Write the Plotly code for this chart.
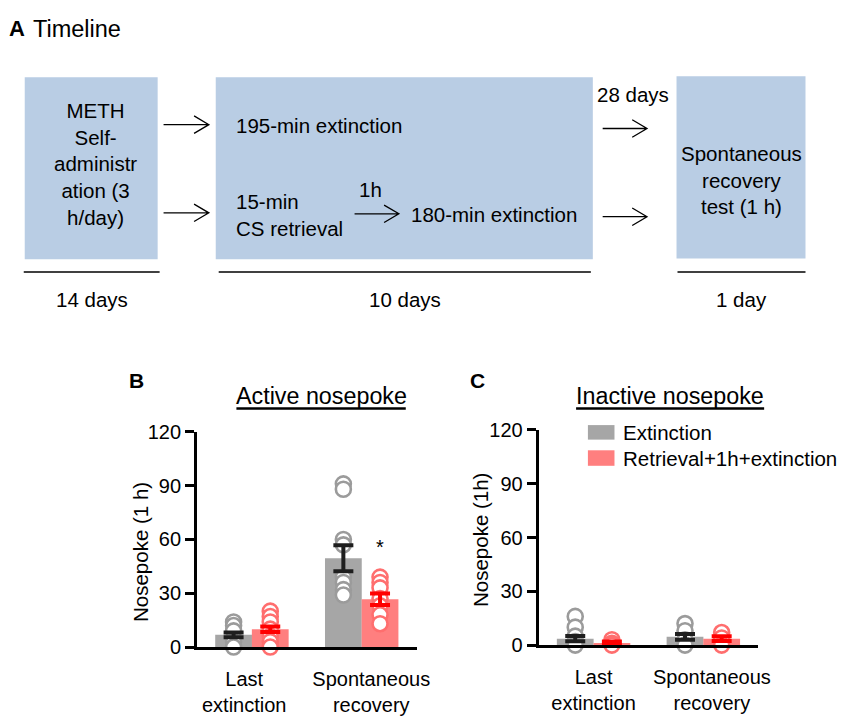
import plotly.graph_objects as go

# ---------------- data ----------------
groups = ["Last<br>extinction", "Spontaneous<br>recovery"]
series_names = ["Extinction", "Retrieval+1h+extinction"]

active_ext_mean = [6.8, 49.5]
active_ext_sem = [1.3, 7.3]
active_ret_mean = [9.9, 26.7]
active_ret_sem = [1.5, 3.2]
active_ext_points = [[14, 12, 9, 3, 0], [91, 88, 60, 57, 39, 36, 32, 29]]
active_ret_points = [[20, 17, 14, 10, 6, 3, 0], [39, 36, 33, 27, 23, 18, 13]]

inactive_ext_mean = [3.6, 4.6]
inactive_ext_sem = [1.5, 1.6]
inactive_ret_mean = [1.2, 3.6]
inactive_ret_sem = [0.8, 1.3]
inactive_ext_points = [[16, 10, 5, 2, 0], [12, 8, 3, 0]]
inactive_ret_points = [[3, 1, 0], [7, 4, 0]]

y_ticks = [0, 30, 60, 90, 120]

# timeline texts
timeline_title = "Timeline"
box_texts = ["METH<br>Self-<br>administr<br>ation (3<br>h/day)",
             "Spontaneous<br>recovery<br>test (1 h)"]
phase_texts = ["195-min extinction", "15-min<br>CS retrieval", "1h", "180-min extinction", "28 days"]
duration_texts = ["14 days", "10 days", "1 day"]
y_titles = ["Nosepoke (1 h)", "Nosepoke (1h)"]
panel_titles = ["Active nosepoke", "Inactive nosepoke"]

# ---------------- styles ----------------
PAGE_PAD = 8                      # browser body margin
W, H = 850 - PAGE_PAD, 722 - PAGE_PAD
FONT = "Liberation Sans, Arial, sans-serif"
GRAY_BAR = "#a6a6a6"
GRAY_DOT = "#9b9b9b"
RED_BAR = "#ff7f7f"
RED_DOT = "#ff6e6e"
RED_ERR = "#ff0000"
BLACK_ERR = "#1e1e1e"
BOX_FILL = "#b9cde4"
BAR_W = 0.335
OFF = 0.167
TXT = 20.5


def X(px):
    return (px - PAGE_PAD) / W


def Y(py):
    return 1 - (py - PAGE_PAD) / H


fig = go.Figure()


def add_panel(xa, ya, ext_mean, ext_sem, ret_mean, ret_sem, ext_pts, ret_pts):
    gx = list(range(len(groups)))
    for mean, col, off, name in [(ext_mean, GRAY_BAR, -OFF, series_names[0]),
                                 (ret_mean, RED_BAR, OFF, series_names[1])]:
        fig.add_trace(go.Bar(x=[g + off for g in gx], y=mean, width=BAR_W,
                             marker=dict(color=col, line=dict(width=0)),
                             name=name, showlegend=False, xaxis=xa, yaxis=ya))
    for pts, col, off in [(ext_pts, GRAY_DOT, -OFF), (ret_pts, RED_DOT, OFF)]:
        xs, ys = [], []
        for g, vals in zip(gx, pts):
            xs += [g + off] * len(vals)
            ys += vals
        fig.add_trace(go.Scatter(x=xs, y=ys, mode="markers", cliponaxis=False,
                                 marker=dict(symbol="circle", size=15, color="white",
                                             line=dict(color=col, width=2.6)),
                                 showlegend=False, xaxis=xa, yaxis=ya))
    for mean, sem, col, off in [(ext_mean, ext_sem, BLACK_ERR, -OFF),
                                (ret_mean, ret_sem, RED_ERR, OFF)]:
        fig.add_trace(go.Scatter(x=[g + off for g in gx], y=mean, mode="markers",
                                 cliponaxis=False,
                                 marker=dict(size=1, color="rgba(0,0,0,0)"),
                                 error_y=dict(type="data", array=sem, color=col,
                                              thickness=4, width=10),
                                 showlegend=False, xaxis=xa, yaxis=ya))


add_panel("x", "y", active_ext_mean, active_ext_sem, active_ret_mean, active_ret_sem,
          active_ext_points, active_ret_points)
add_panel("x2", "y2", inactive_ext_mean, inactive_ext_sem, inactive_ret_mean, inactive_ret_sem,
          inactive_ext_points, inactive_ret_points)

axis_common = dict(showline=True, linecolor="black", linewidth=3, showgrid=False,
                   zeroline=False, tickfont=dict(family=FONT, size=20, color="black"))
xaxis_common = dict(range=[-0.5, 1.5], ticks="", ticklabelstandoff=12, **axis_common)
yaxis_common = dict(range=[0, 120], tickvals=y_ticks, ticks="outside", ticklen=9,
                    tickwidth=3, tickcolor="black", **axis_common)

fig.update_layout(
    width=W, height=H, margin=dict(l=0, r=0, t=0, b=0),
    paper_bgcolor="white", plot_bgcolor="white", showlegend=False,
    font=dict(family=FONT, color="black"),
    barmode="overlay",
    xaxis=dict(domain=[X(200), X(423)], tickvals=[-0.07, 1.087], ticktext=groups,
               anchor="y", **xaxis_common),
    yaxis=dict(domain=[Y(656), Y(434)], anchor="x", **yaxis_common),
    xaxis2=dict(domain=[X(547), X(770)], tickvals=[0.0, 1.078], ticktext=groups,
                anchor="y2", **xaxis_common),
    yaxis2=dict(domain=[Y(654), Y(432)], anchor="x2", **yaxis_common),
)

shapes = []
annotations = []


def text(px, py, s, size=TXT, xanchor="center", align="center", angle=0):
    annotations.append(dict(x=X(px), y=Y(py), xref="paper", yref="paper", text=s,
                            showarrow=False, xanchor=xanchor, yanchor="middle", align=align,
                            textangle=angle,
                            font=dict(family=FONT, size=size, color="black"),
                            borderpad=0))


# ---- panel A: timeline ----
boxes = [(25, 68, 160, 256), (219, 68, 602, 256), (687, 67, 818, 255)]
for x0, y0, x1, y1 in boxes:
    shapes.append(dict(type="rect", xref="paper", yref="paper", x0=X(x0), x1=X(x1),
                       y0=Y(y1), y1=Y(y0), fillcolor=BOX_FILL, line=dict(width=0), layer="below"))

arrows = [(166, 212, 117), (166, 212, 208), (360, 405, 209), (612, 657, 121), (612, 657, 212)]
for x0, x1, y in arrows:
    path = (f"M {X(x0)},{Y(y)} L {X(x1)},{Y(y)} "
            f"M {X(x1 - 15)},{Y(y - 9)} L {X(x1)},{Y(y)} L {X(x1 - 15)},{Y(y + 9)}")
    shapes.append(dict(type="path", xref="paper", yref="paper", path=path,
                       line=dict(color="black", width=1.3)))

underlines = [(24, 162, 269), (222, 600, 269), (688, 818, 269)]
for x0, x1, y in underlines:
    shapes.append(dict(type="line", xref="paper", yref="paper", x0=X(x0), x1=X(x1),
                       y0=Y(y), y1=Y(y), line=dict(color="black", width=1.5)))

text(8, 18, "<b>A</b>", size=22, xanchor="left")
text(32, 18, timeline_title, size=23.5, xanchor="left")
text(97, 158, box_texts[0])
text(753, 174, box_texts[1])
text(239, 118, phase_texts[0], xanchor="left")
text(239, 210, phase_texts[1], xanchor="left", align="left")
text(376, 184, phase_texts[2])
text(416, 210, phase_texts[3], xanchor="left")
text(643, 86, phase_texts[4])
for (x0, x1, _), s in zip(underlines, duration_texts):
    text((x0 + x1) / 2, 297, s)

# ---- panels B and C headings ----
text(130, 381, "<b>B</b>", size=21, xanchor="left")
text(476, 381, "<b>C</b>", size=21, xanchor="left")
text(326, 397, panel_titles[0], size=23.3)
text(680, 397, panel_titles[1], size=23.3)
for x0, x1 in [(240, 412), (585, 776)]:
    shapes.append(dict(type="line", xref="paper", yref="paper", x0=X(x0), x1=X(x1),
                       y0=Y(410), y1=Y(410), line=dict(color="black", width=2.5)))
text(142, 558, y_titles[0], angle=-90)
text(488, 546, y_titles[1], angle=-90)

# significance star
annotations.append(dict(x=1 + OFF, y=56, xref="x", yref="y", text="*", showarrow=False,
                        font=dict(family=FONT, size=20, color="black"), yanchor="middle"))

# legend (panel C)
for (y0, y1), col, name in [((427, 442), GRAY_BAR, series_names[0]),
                            ((453, 469), RED_BAR, series_names[1])]:
    shapes.append(dict(type="rect", xref="paper", yref="paper", x0=X(597), x1=X(624),
                       y0=Y(y1), y1=Y(y0), fillcolor=col, line=dict(width=0)))
    text(632, (y0 + y1) / 2, name, size=TXT, xanchor="left")

fig.update_layout(shapes=shapes, annotations=annotations)
fig.write_html("out.html")
